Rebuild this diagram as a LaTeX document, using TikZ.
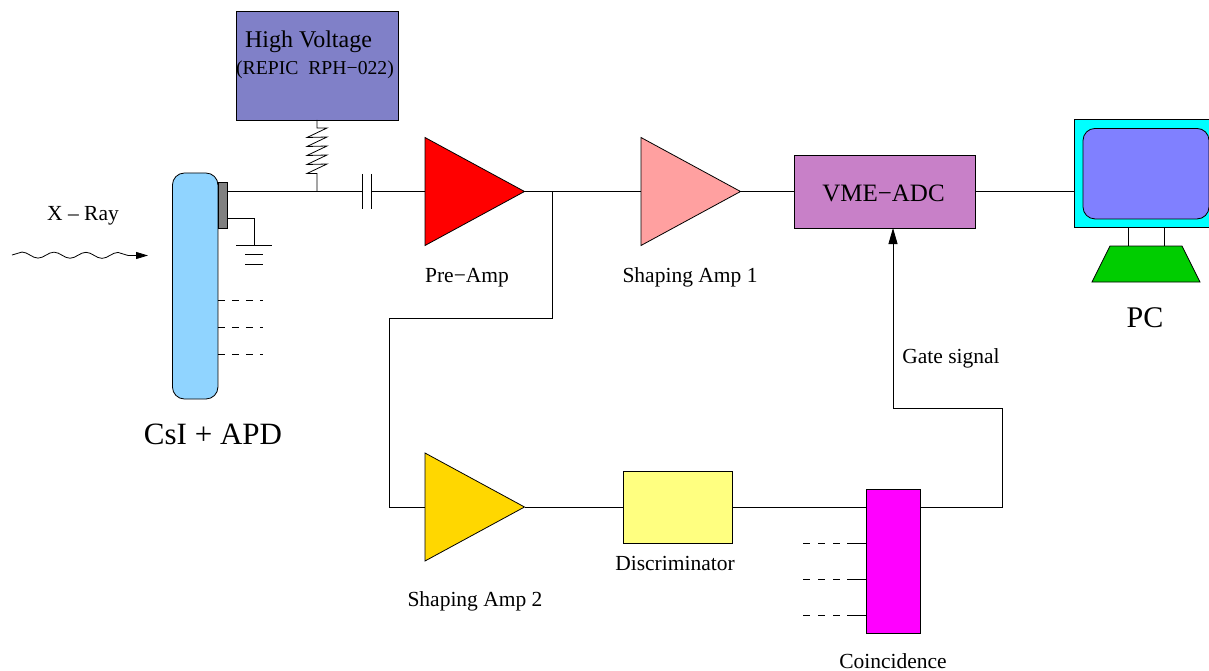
\documentclass[tikz,border=0pt]{standalone}
\usepackage{fontspec}
\setmainfont{Liberation Serif}
\usetikzlibrary{shapes.geometric, arrows.meta, positioning, decorations.pathmorphing}
\definecolor{hvblue}{RGB}{128, 128, 200}
\definecolor{csiblue}{RGB}{144, 212, 255}
\definecolor{apdgray}{RGB}{128, 128, 128}
\definecolor{ampred}{RGB}{255, 0, 0}
\definecolor{amppink}{RGB}{255, 160, 160}
\definecolor{ampgold}{RGB}{255, 215, 0}
\definecolor{adcpurple}{RGB}{200, 128, 200}
\definecolor{discyellow}{RGB}{255, 255, 128}
\definecolor{coinmagenta}{RGB}{255, 0, 255}
\definecolor{monitorcyan}{RGB}{0, 255, 255}
\definecolor{screenblue}{RGB}{128, 128, 255}
\definecolor{basegreen}{RGB}{0, 205, 0}

\begin{document}
\begin{tikzpicture}[
    x=1pt, y=-1pt,
    line width=0.8pt,
    box/.style={draw, rectangle, inner sep=0pt, outer sep=0pt},
    amp/.style={draw, isosceles triangle, isosceles triangle stretches, inner sep=0pt, outer sep=0pt,
        minimum width=108pt, minimum height=99.5pt, anchor=west},
    pending/.style={dash pattern=on 7pt off 7pt},
    gatearrow/.style={-{Triangle[length=16pt, width=9pt]}},
    rayarrow/.style={-{Triangle[length=12pt, width=7pt]}},
    lab/.style={anchor=base, inner sep=0pt, font=\fontsize{21.5}{24}\selectfont},
    biglab/.style={anchor=base, inner sep=0pt, font=\fontsize{30}{34}\selectfont},
]
\useasboundingbox (0,0) rectangle (1209,671);

% --- Detector: crystal and photodiode ---
\node[box, fill=csiblue, rounded corners=12pt, minimum width=45.5pt, minimum height=226pt] (csi) at (195.2,286) {};
\node[box, fill=apdgray, minimum width=9pt, minimum height=45.5pt, anchor=north west] (apd) at (218,182.5) {};

% --- High voltage supply ---
\node[box, fill=hvblue, minimum width=162pt, minimum height=109pt] (hv) at (317,65.5) {};

% --- Amplifiers ---
\node[amp, fill=ampred] (preamp) at (425,191.5) {};
\node[amp, fill=amppink] (shapeone) at (641,191.5) {};
\node[amp, fill=ampgold] (shapetwo) at (425,507) {};

% --- Boxes of the readout ---
\node[box, fill=adcpurple, minimum width=181pt, minimum height=73pt] (adc) at (884.5,191.5) {};
\node[box, fill=discyellow, minimum width=109pt, minimum height=72pt] (disc) at (677.5,507) {};
\node[box, fill=coinmagenta, minimum width=54pt, minimum height=144pt] (coin) at (893,561) {};

% --- PC: screen, stand and base ---
\node[box, fill=monitorcyan, minimum width=144pt, minimum height=108pt] (monitor) at (1146,173.5) {};
\node[box, fill=screenblue, rounded corners=12pt, minimum width=126pt, minimum height=90.5pt] (screen) at (1146,173.7) {};
\draw[fill=basegreen] (1110,246) -- (1182,246) -- (1200,282) -- (1092,282) -- cycle;
\draw (1128,228) -- (1128,246);
\draw (1164,228) -- (1164,246);

% --- Main signal line ---
\coordinate (junction) at (317,191.5);
\coordinate (capa) at (362,191.5);
\coordinate (capb) at (371,191.5);
\draw (apd.east |- junction) -- (capa);
\draw (capa) ++(0,-17.5) -- ++(0,35);
\draw (capb) ++(0,-17.5) -- ++(0,35);
\draw (capb) -- (preamp.west);
\draw (preamp.apex) -- (shapeone.west);
\draw (shapeone.apex) -- (adc.west |- shapeone.apex);
\draw (adc.east) -- (monitor.west |- adc.east);

% --- Bias resistor ---
\draw (hv.south) -- ++(0,8) -- ++(10,0)
    -- ++(-20,9.5) -- ++(20,-0.5) -- ++(-20,9.5) -- ++(20,-0.5) -- ++(-20,9.5)
    -- ++(20,-0.5) -- ++(-20,9.5) -- ++(20,-0.5) -- ++(-20,9.5) -- ++(10,0) -- (junction);

% --- Ground ---
\coordinate (gnd) at (254,245.5);
\draw (apd.east |- 0,218.5) -| (gnd);
\draw (gnd) ++(-18,0) -- ++(36,0);
\draw (gnd) ++(-9,9) -- ++(18,0);
\draw (gnd) ++(-9,18.5) -- ++(18,0);

% --- Other channels, detector side ---
\foreach \yy in {300, 327, 354} {
    \draw[pending] (csi.east |- 0,\yy) -- ++(45,0);
}

% --- X-ray ---
\coordinate (raystart) at (12,255);
\coordinate (rayend) at (136,255.5);
\coordinate (raytip) at (148,255.5);
\draw[decorate, decoration={snake, segment length=32pt, amplitude=3pt}] (raystart) -- (rayend);
\draw[rayarrow] (rayend) -- (raytip);

% --- Second branch ---
\coordinate (branch) at (552,191.5);
\draw (branch) -- ++(0,126.5) -- ++(-163,0) |- (shapetwo.west);
\draw (shapetwo.apex) -- (disc.west);
\draw (disc.east) -- (coin.west |- disc.east);
\draw[gatearrow] (coin.east |- disc.east) -| (1002,408) -| (adc.south -| coin.center);

% --- Other channels, coincidence side ---
\foreach \yy in {543, 579, 615} {
    \coordinate (stub) at (847,\yy);
    \draw (stub) -- (coin.west |- stub);
    \draw[dash pattern=on 7pt off 8pt] (803,\yy) -- (stub);
}

% --- Labels ---
\node[anchor=base, inner sep=0pt, font=\fontsize{24}{26}\selectfont] (hvtxt) at (308.5,48) {High Voltage};
\node[anchor=base, inner sep=0pt, font=\fontsize{19.7}{22}\selectfont] (hvtype) at (315,75) {(REPIC\ \ RPH−022)};
\node[lab] (raytxt) at (83,220) {X – Ray};
\node[lab] (pretxt) at (467,282) {Pre−Amp};
\node[lab] (onetxt) at (690,282) {Shaping Amp 1};
\node[lab] (twotxt) at (475,606) {Shaping Amp 2};
\node[anchor=base, inner sep=0pt, font=\fontsize{25}{28}\selectfont] (adctxt) at (883.5,201) {VME−ADC};
\node[lab] (gatetxt) at (951,363) {Gate signal};
\node[lab] (disctxt) at (675,570) {Discriminator};
\node[lab] (cointxt) at (893,668) {Coincidence};
\node[biglab] (pctxt) at (1145,327) {PC};
\node[biglab, font=\fontsize{31}{34}\selectfont] (csitxt) at (213,444) {CsI + APD};

\end{tikzpicture}
\end{document}
